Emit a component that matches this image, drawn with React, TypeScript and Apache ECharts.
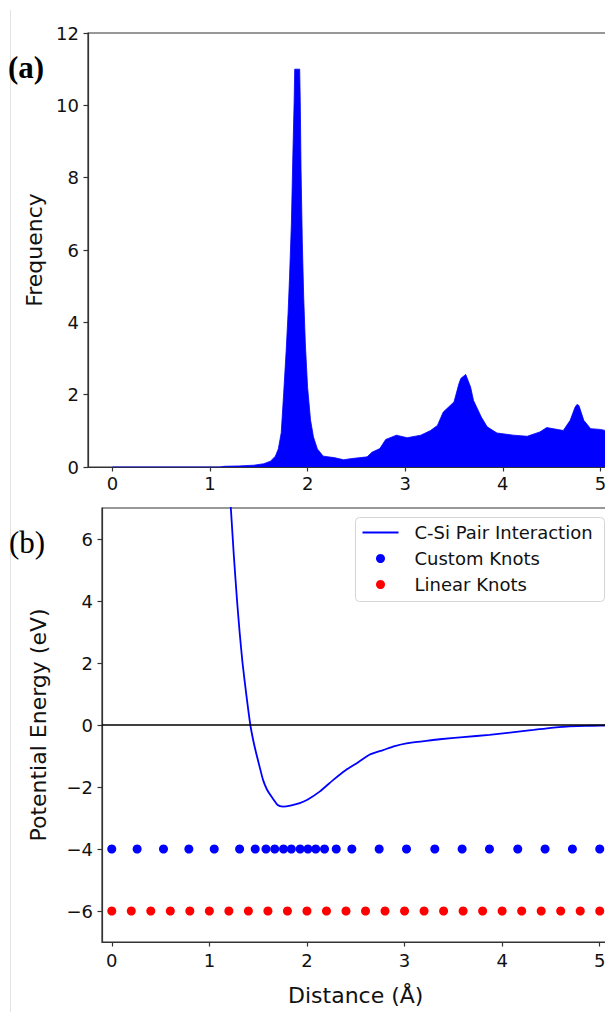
import React, { useEffect, useRef } from "react";
import * as echarts from "echarts";

// Histogram (panel a): outline points of the distribution (distance, frequency)
const histX = [0.0, 1.1, 1.15, 1.3, 1.45, 1.55, 1.62, 1.67, 1.7, 1.73, 1.755, 1.78, 1.8, 1.815, 1.834, 1.85, 1.862, 1.868, 1.919, 1.925, 1.933, 1.946, 1.96, 1.977, 2.0, 2.03, 2.06, 2.1, 2.16, 2.27, 2.37, 2.44, 2.61, 2.66, 2.74, 2.8, 2.91, 3.02, 3.16, 3.26, 3.33, 3.39, 3.5, 3.55, 3.57, 3.62, 3.67, 3.7, 3.78, 3.84, 3.94, 4.11, 4.25, 4.38, 4.45, 4.62, 4.69, 4.74, 4.76, 4.78, 4.83, 4.9, 5.0, 5.1, 5.25];
const histY = [0, 0, 0.02, 0.03, 0.05, 0.09, 0.16, 0.3, 0.5, 0.95, 2.05, 3.2, 4.26, 5.25, 6.75, 8.76, 10.1, 11.0, 11.0, 10.1, 8.2, 6.2, 4.7, 3.4, 2.2, 1.3, 0.83, 0.5, 0.3, 0.26, 0.2, 0.23, 0.28, 0.41, 0.51, 0.76, 0.88, 0.81, 0.88, 1.01, 1.15, 1.52, 1.8, 2.3, 2.45, 2.56, 2.21, 1.84, 1.38, 1.11, 0.94, 0.88, 0.85, 0.97, 1.09, 1.01, 1.29, 1.65, 1.73, 1.7, 1.29, 1.06, 1.04, 0.98, 0.95];

// Pair potential (panel b)
const potX = [1.19, 1.22, 1.25, 1.284, 1.31, 1.34, 1.38, 1.42, 1.45, 1.48, 1.515, 1.55, 1.59, 1.636, 1.7, 1.755, 1.83, 1.926, 2.0, 2.13, 2.27, 2.4, 2.507, 2.64, 2.78, 2.9, 3.02, 3.2, 3.36, 3.6, 3.87, 4.1, 4.32, 4.5, 4.66, 4.85, 5.0, 5.1];
const potY = [8.2, 7.0, 5.5, 4.0, 3.0, 2.0, 0.95, 0.0, -0.5, -0.91, -1.35, -1.77, -2.08, -2.31, -2.58, -2.63, -2.6, -2.52, -2.42, -2.15, -1.77, -1.45, -1.24, -0.96, -0.81, -0.68, -0.59, -0.52, -0.46, -0.39, -0.32, -0.24, -0.16, -0.09, -0.05, -0.03, -0.02, -0.01];

const customKnots = [0, 0.26, 0.53, 0.79, 1.05, 1.31, 1.47, 1.58, 1.67, 1.76, 1.84, 1.93, 2.01, 2.09, 2.18, 2.3, 2.46, 2.74, 3.02, 3.31, 3.59, 3.87, 4.16, 4.44, 4.72, 5.0];
const customKnotLevel = -4;
const linearKnots = [0, 0.2, 0.4, 0.6, 0.8, 1.0, 1.2, 1.4, 1.6, 1.8, 2.0, 2.2, 2.4, 2.6, 2.8, 3.0, 3.2, 3.4, 3.6, 3.8, 4.0, 4.2, 4.4, 4.6, 4.8, 5.0];
const linearKnotLevel = -6;

const xTicks = [0, 1, 2, 3, 4, 5];
const yTicksA = [0, 2, 4, 6, 8, 10, 12];
const yTicksB = [-6, -4, -2, 0, 2, 4, 6];

const legendNames = ["C-Si Pair Interaction", "Custom Knots", "Linear Knots"];

const FONT = "DejaVu Sans";
const AX = "#333333";
const BLUE = "#0000ff";
const RED = "#ff0000";

const minus = (v: number) => String(v).replace("-", "\u2212");

function axisBase(ticks: number[], margin: number) {
  return {
    type: "value" as const,
    axisLine: { show: true, onZero: false, lineStyle: { color: AX, width: 1.2 } },
    axisTick: { show: true, length: 4.5, customValues: ticks, lineStyle: { color: AX, width: 1.2 } },
    axisLabel: {
      customValues: ticks,
      margin,
      fontSize: 18,
      color: "#111",
      fontFamily: FONT,
      formatter: (v: number) => minus(v),
    },
    splitLine: { show: false },
  };
}

export default function App() {
  const ref = useRef<HTMLDivElement>(null);
  useEffect(() => {
    if (!ref.current) return;
    const chart = echarts.init(ref.current, undefined, { renderer: "svg" });
    const histData = histX.map((x, i) => [x, histY[i]]);
    const potData = potX.map((x, i) => [x, potY[i]]);
    const option = {
      animation: false,
      backgroundColor: "#ffffff",
      grid: [
        { left: 88, top: 33, width: 536.8, height: 434, show: true, borderColor: AX, borderWidth: 1.2, backgroundColor: "transparent" },
        { left: 102, top: 508, width: 507.5, height: 434, show: true, borderColor: AX, borderWidth: 1.2, backgroundColor: "transparent" },
      ],
      xAxis: [
        { ...axisBase(xTicks, 7), gridIndex: 0, min: -0.25, max: 5.25 },
        {
          ...axisBase(xTicks, 9),
          gridIndex: 1,
          min: -0.1,
          max: 5.1,
          name: "Distance (Å)",
          nameLocation: "middle",
          nameGap: 42,
          nameTextStyle: { fontSize: 22, color: "#111", fontFamily: FONT },
        },
      ],
      yAxis: [
        {
          ...axisBase(yTicksA, 9),
          gridIndex: 0,
          min: 0,
          max: 12,
          name: "Frequency",
          nameLocation: "middle",
          nameGap: 29,
          nameTextStyle: { fontSize: 22, color: "#111", fontFamily: FONT },
        },
        {
          ...axisBase(yTicksB, 9),
          gridIndex: 1,
          min: -7,
          max: 7,
          name: "Potential Energy (eV)",
          nameLocation: "middle",
          nameGap: 53,
          nameTextStyle: { fontSize: 22, color: "#111", fontFamily: FONT },
        },
      ],
      series: [
        {
          name: "Histogram",
          type: "line",
          xAxisIndex: 0,
          yAxisIndex: 0,
          showSymbol: false,
          data: histData,
          lineStyle: { color: BLUE, width: 0.8 },
          areaStyle: { color: BLUE, opacity: 1 },
          silent: true,
        },
        {
          name: legendNames[0],
          type: "line",
          xAxisIndex: 1,
          yAxisIndex: 1,
          showSymbol: false,
          smooth: 0.2,
          data: potData,
          lineStyle: { color: BLUE, width: 1.8 },
          markLine: {
            silent: true,
            symbol: ["none", "none"],
            label: { show: false },
            lineStyle: { color: "#000", type: "solid", width: 1.6 },
            data: [{ yAxis: 0 }],
          },
        },
        {
          name: legendNames[1],
          type: "scatter",
          xAxisIndex: 1,
          yAxisIndex: 1,
          symbolSize: 9,
          itemStyle: { color: BLUE, opacity: 1 },
          data: customKnots.map((x) => [x, customKnotLevel]),
        },
        {
          name: legendNames[2],
          type: "scatter",
          xAxisIndex: 1,
          yAxisIndex: 1,
          symbolSize: 9,
          itemStyle: { color: RED, opacity: 1 },
          data: linearKnots.map((x) => [x, linearKnotLevel]),
        },
      ],
      graphic: [
        { type: "line", shape: { x1: 10.5, y1: 10, x2: 10.5, y2: 1012 }, style: { stroke: "#e4e4e4", lineWidth: 1 } },
        { type: "text", left: 8, top: 52, style: { text: "(a)", font: "bold 31px 'Liberation Serif'", fill: "#000" } },
        { type: "text", left: 9, top: 527, style: { text: "(b)", font: "31px 'Liberation Serif'", fill: "#000" } },
        {
          type: "group",
          left: 355,
          top: 517,
          children: [
            { type: "rect", shape: { x: 0, y: 0, width: 249, height: 84, r: 4 }, style: { fill: "rgba(255,255,255,0.85)", stroke: "#d4d4d4", lineWidth: 1 } },
            { type: "line", shape: { x1: 7, y1: 15, x2: 43, y2: 15 }, style: { stroke: BLUE, lineWidth: 1.8 } },
            { type: "circle", shape: { cx: 25, cy: 41, r: 4.5 }, style: { fill: BLUE } },
            { type: "circle", shape: { cx: 25, cy: 67, r: 4.5 }, style: { fill: RED } },
            { type: "text", x: 59, y: 15, style: { text: legendNames[0], font: `18px '${FONT}'`, fill: "#111", verticalAlign: "middle" } },
            { type: "text", x: 59, y: 41, style: { text: legendNames[1], font: `18px '${FONT}'`, fill: "#111", verticalAlign: "middle" } },
            { type: "text", x: 59, y: 67, style: { text: legendNames[2], font: `18px '${FONT}'`, fill: "#111", verticalAlign: "middle" } },
          ],
        },
      ],
    };
    chart.setOption(option as any);
    return () => chart.dispose();
  }, []);
  return (
    <div style={{ position: "fixed", left: 0, top: 0, width: 605, height: 1012, overflow: "hidden", background: "#fff" }}>
      <div ref={ref} style={{ width: 630, height: 1012 }} />
    </div>
  );
}
